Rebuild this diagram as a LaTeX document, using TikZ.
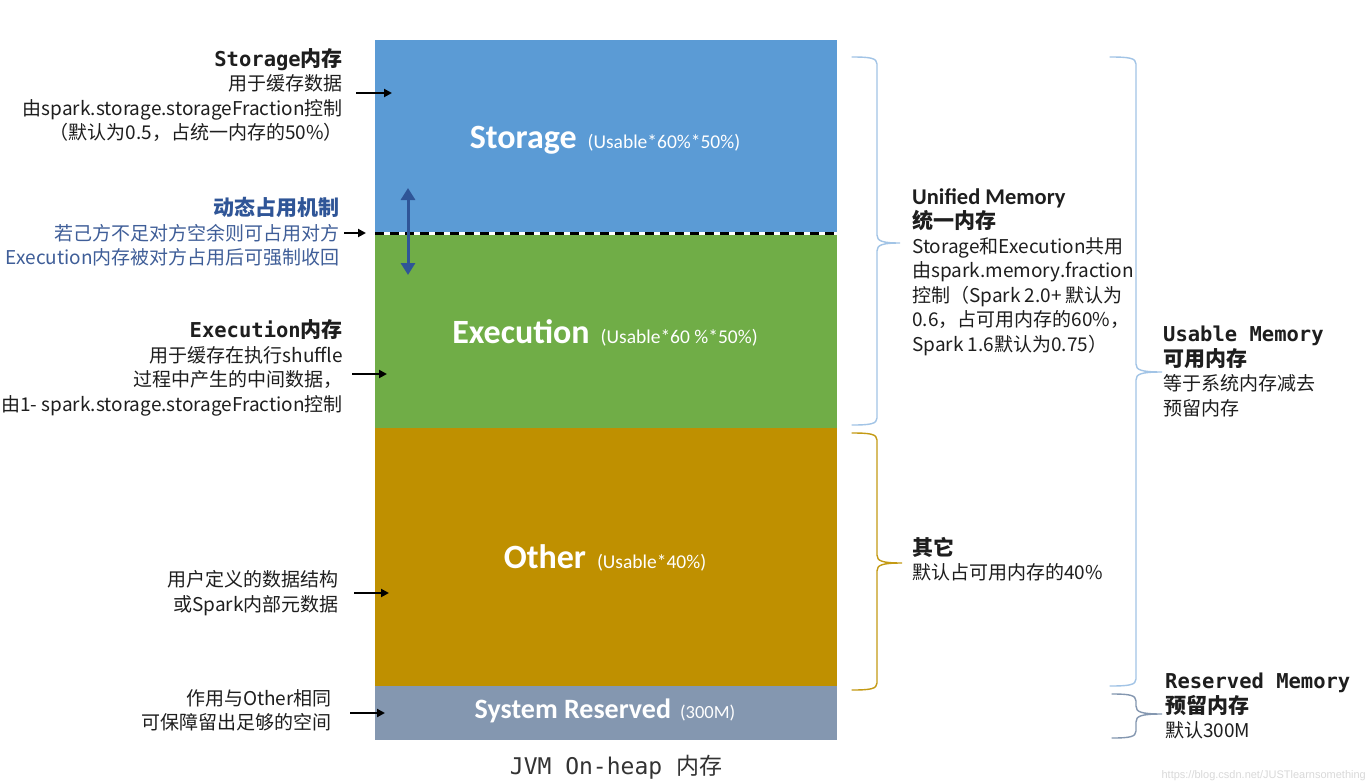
\documentclass[tikz,border=0pt]{standalone}
\usepackage{fontspec}
\usetikzlibrary{arrows.meta}
\newfontfamily\cjk{Noto Sans CJK SC}
\newfontfamily\calfont{Carlito}
\newfontfamily\monof{DejaVu Sans Mono}
\newfontfamily\wmfont{Liberation Sans}
\definecolor{stcol}{HTML}{5B9BD5}
\definecolor{excol}{HTML}{70AD47}
\definecolor{otcol}{HTML}{BF9000}
\definecolor{sycol}{HTML}{8497B0}
\definecolor{txtcol}{HTML}{1E1E1E}
\definecolor{dyntitle}{HTML}{2F5597}
\definecolor{dynbody}{HTML}{3F5E98}
\definecolor{bracebl}{HTML}{A2C4E6}
\definecolor{bracegd}{HTML}{C49A14}
\definecolor{bracegr}{HTML}{8497B0}
\definecolor{capcol}{HTML}{333333}
\newcommand{\drawbrace}[7]{%
  \draw[#1, line width=1.4, line cap=round]
    (#2,#5) .. controls ({#3-7},#5) and (#3,{#5+1}) .. (#3,{#5+7})
    -- (#3,{#6-8}) .. controls (#3,{#6-2}) and ({#3+5},#6) .. (#4,#6)
    .. controls ({#3+5},#6) and (#3,{#6+2}) .. (#3,{#6+8})
    -- (#3,{#7-7}) .. controls (#3,{#7-1}) and ({#3-7},#7) .. (#2,#7);}
\begin{document}
\begin{tikzpicture}[x=1pt,y=-1pt,
  block/.style={anchor=north west, inner sep=0, minimum width=462, draw=none},
  blabel/.style={text=white, font=\calfont, inner sep=0},
  ldesc/.style={anchor=east, align=right, inner sep=0, text=txtcol, font=\cjk\fontsize{19}{24.5}\selectfont},
  rdesc/.style={anchor=west, align=left, inner sep=0, text=txtcol, font=\cjk\fontsize{19}{24.5}\selectfont},
  arr/.style={line width=2, -{Triangle[length=8, width=8]}},
  biarr/.style={line width=3, color=dyntitle, {Triangle[length=12, width=14]}-{Triangle[length=12, width=14]}}
]
\path[use as bounding box, fill=white] (0,0) rectangle (1369,782);

% blocks
\node[block, fill=stcol, minimum height=193] (st) at (375,40) {};
\node[block, fill=excol, minimum height=195] (ex) at (375,233) {};
\node[block, fill=otcol, minimum height=258] (ot) at (375,428) {};
\node[block, fill=sycol, minimum height=54] (sy) at (375,686) {};

% block labels
\node[blabel] (stlab) at (605,140) {{\bfseries\fontsize{34}{34}\selectfont Storage}\hspace{11pt}{\fontsize{19.5}{20}\selectfont (Usable*60\%*50\%)}};
\node[blabel] (exlab) at (605,333) {{\bfseries\fontsize{34}{34}\selectfont Execution}\hspace{11pt}{\fontsize{19.5}{20}\selectfont (Usable*60 \%*50\%)}};
\node[blabel] (otlab) at (605,558) {{\bfseries\fontsize{34}{34}\selectfont Other}\hspace{11pt}{\fontsize{19.5}{20}\selectfont (Usable*40\%)}};
\node[blabel] (sylab) at (605,711) {{\bfseries\fontsize{28}{28}\selectfont System Reserved}\hspace{9pt}{\fontsize{18.5}{19}\selectfont (300M)}};

% dashed boundary
\draw[white, line width=3] (st.south west) -- (st.south east);
\draw[black, line width=3, dash pattern=on 9pt off 6pt] (st.south west) -- (st.south east);

% dynamic arrow
\coordinate (bt) at (408,188);
\coordinate (bb) at (408,275);
\draw[biarr] (bb) -- (bt);

% left descriptions
\node[ldesc] (stdesc) at (343,95) {{\monof\bfseries\fontsize{20.5}{24.5}\selectfont Storage}{\bfseries\fontsize{21}{24.5}\selectfont 内存}\\用于缓存数据\\由spark.storage.storageFraction控制\\（默认为0.5，占统一内存的50\%）};
\node[ldesc, text=dynbody] (dyndesc) at (340,232) {{\bfseries\fontsize{21}{24.5}\selectfont\color{dyntitle}动态占用机制}\\若己方不足对方空余则可占用对方\\Execution内存被对方占用后可强制收回};
\node[ldesc] (exdesc) at (343,368) {{\monof\bfseries\fontsize{20.5}{24.5}\selectfont Execution}{\bfseries\fontsize{21}{24.5}\selectfont 内存}\\用于缓存在执行shuffle\\过程中产生的中间数据，\\由1- spark.storage.storageFraction控制};
\node[ldesc] (otdesc) at (339,593) {用户定义的数据结构\\或Spark内部元数据};
\node[ldesc] (sydesc) at (332,710.5) {作用与Other相同\\可保障留出足够的空间};

% left arrows
\coordinate (a1s) at (356,93);  \coordinate (a1e) at (392,93);
\coordinate (a2s) at (344,233); \coordinate (a2e) at (366,233);
\coordinate (a3s) at (352,374); \coordinate (a3e) at (387,374);
\coordinate (a4s) at (354,593); \coordinate (a4e) at (389,593);
\coordinate (a5s) at (350,713); \coordinate (a5e) at (385,713);
\draw[arr] (a1s) -- (a1e);
\draw[arr] (a2s) -- (a2e);
\draw[arr] (a3s) -- (a3e);
\draw[arr] (a4s) -- (a4e);
\draw[arr] (a5s) -- (a5e);

% braces
\drawbrace{bracebl}{852}{877}{900}{57}{243}{425}
\drawbrace{bracegd}{852}{877}{902}{433}{563}{690}
\drawbrace{bracebl}{1110}{1136}{1162}{57}{372}{686}
\drawbrace{bracegr}{1112}{1136}{1162}{694}{714}{738}

% right descriptions
\node[rdesc] (unidesc) at (912,272) {{\calfont\bfseries\fontsize{22.5}{24.5}\selectfont Unified Memory}\\{\bfseries\fontsize{21}{24.5}\selectfont 统一内存}\\Storage和Execution共用\\由spark.memory.fraction\\控制（Spark 2.0+ 默认为\\0.6，占可用内存的60\%，\\Spark 1.6默认为0.75）};
\node[rdesc] (otrdesc) at (912,559) {{\bfseries\fontsize{21}{24.5}\selectfont 其它}\\默认占可用内存的40\%};
\node[rdesc] (usdesc) at (1163,371.5) {{\monof\bfseries\fontsize{20.5}{24.5}\selectfont Usable Memory}\\{\bfseries\fontsize{21}{24.5}\selectfont 可用内存}\\等于系统内存减去\\预留内存};
\node[rdesc] (rsdesc) at (1165,706) {{\monof\bfseries\fontsize{20.5}{24.5}\selectfont Reserved Memory}\\{\bfseries\fontsize{21}{24.5}\selectfont 预留内存}\\默认300M};

% caption
\node[inner sep=0, text=capcol, font=\monof\fontsize{23}{23}\selectfont] (cap) at (616,767) {JVM On-heap {\cjk 内存}};

% watermark
\node[anchor=east, inner sep=0, text=black!15, font=\wmfont\fontsize{11}{11}\selectfont] (wm) at (1366,776) {https://blog.csdn.net/JUSTlearnsomething};
\end{tikzpicture}
\end{document}
